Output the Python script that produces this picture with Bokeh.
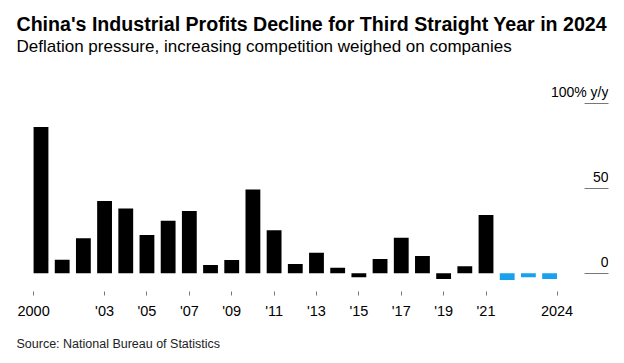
from bokeh.plotting import figure
from bokeh.models import ColumnDataSource, Range1d, FixedTicker, Title
from bokeh.core.properties import value
from bokeh.embed import file_html
from bokeh.resources import INLINE

# ---- data ----
years = list(range(2000, 2025))
profit_growth = [86.2, 8.0, 20.7, 42.5, 38.2, 22.6, 31.0, 36.7, 4.9, 7.8,
                 49.4, 25.4, 5.5, 12.1, 3.3, -2.3, 8.4, 20.9, 10.2, -3.3,
                 4.1, 34.3, -4.0, -2.3, -3.3]
highlight_from = 2022
x_tick_years = [2000, 2003, 2005, 2007, 2009, 2011, 2013, 2015, 2017, 2019, 2021, 2024]
x_tick_labels = ["2000", "'03", "'05", "'07", "'09", "'11", "'13", "'15", "'17", "'19", "'21", "2024"]
y_ticks = [0, 50, 100]
y_tick_labels = ["0", "50", "100% y/y"]

title_text = "China's Industrial Profits Decline for Third Straight Year in 2024"
subtitle_text = "Deflation pressure, increasing competition weighed on companies"
source_text = "Source: National Bureau of Statistics"

BLACK = "#000000"
BLUE = "#1aa1ee"
FONT = "Liberation Sans"
BAR_W = 0.7

colors = [BLUE if y >= highlight_from else BLACK for y in years]
src = ColumnDataSource(dict(year=years, value=profit_growth, color=colors))

x0, x1 = 1998.844, 2026.78
y0, y1 = -9.53, 160.6

p = figure(width=620, height=363, output_backend="svg", toolbar_location=None,
           title=None, x_range=Range1d(x0, x1), y_range=Range1d(y0, y1),
           y_axis_location="right",
           min_border_left=16, min_border_right=12, min_border_top=0, min_border_bottom=72)
p.outline_line_color = None
p.xgrid.grid_line_color = None
p.ygrid.grid_line_color = None
p.background_fill_color = "white"
p.border_fill_color = "white"

p.vbar(x="year", top="value", bottom=0, width=BAR_W, source=src,
       fill_color="color", line_color=None)

# x axis: first/last tick at bar outer edges, others at bar centres
tick_pos = []
for y in x_tick_years:
    if y == years[0]:
        tick_pos.append(y - BAR_W / 2)
    elif y == years[-1]:
        tick_pos.append(y + BAR_W / 2)
    else:
        tick_pos.append(float(y))
xa = p.xaxis[0]
xa.ticker = FixedTicker(ticks=tick_pos)
xa.major_label_overrides = {t: l for t, l in zip(tick_pos, x_tick_labels)}
xa.axis_line_color = None
xa.major_tick_in = -2
xa.major_tick_out = 6
xa.major_tick_line_color = "#777777"
xa.minor_tick_line_color = None
xa.major_label_standoff = 7
xa.major_label_text_font = FONT
xa.major_label_text_font_size = "14.5px"
xa.major_label_text_color = "#000000"

# y axis on right: ticks drawn inward, labels above the ticks
ya = p.yaxis[0]
ya.ticker = FixedTicker(ticks=y_ticks)
ya.axis_line_color = None
ya.major_tick_in = 24
ya.major_tick_out = 0
ya.major_tick_line_color = "#777777"
ya.minor_tick_line_color = None
ya.major_label_overrides = {t: "" for t in y_ticks}
ya.major_label_standoff = 0

p.text(x=[x1] * len(y_ticks), y=y_ticks, text=y_tick_labels, y_offset=-11.5,
       text_align="right", text_baseline="alphabetic",
       text_font=value(FONT), text_font_size="14px", text_color="#000000")

p.text(x=[x0], y=[y1], text=[title_text], y_offset=23.5,
       text_align="left", text_baseline="alphabetic",
       text_font=value(FONT), text_font_style="bold", text_font_size="19.6px",
       text_color="#000000")
p.text(x=[x0], y=[y1], text=[subtitle_text], y_offset=46,
       text_align="left", text_baseline="alphabetic",
       text_font=value(FONT), text_font_size="17px", text_color="#000000")

p.add_layout(Title(text=source_text, align="left", text_font=FONT,
                   text_font_style="normal", text_font_size="12.5px",
                   text_color="#222222", standoff=26), "below")

open("out.html", "w").write(file_html(p, INLINE))
